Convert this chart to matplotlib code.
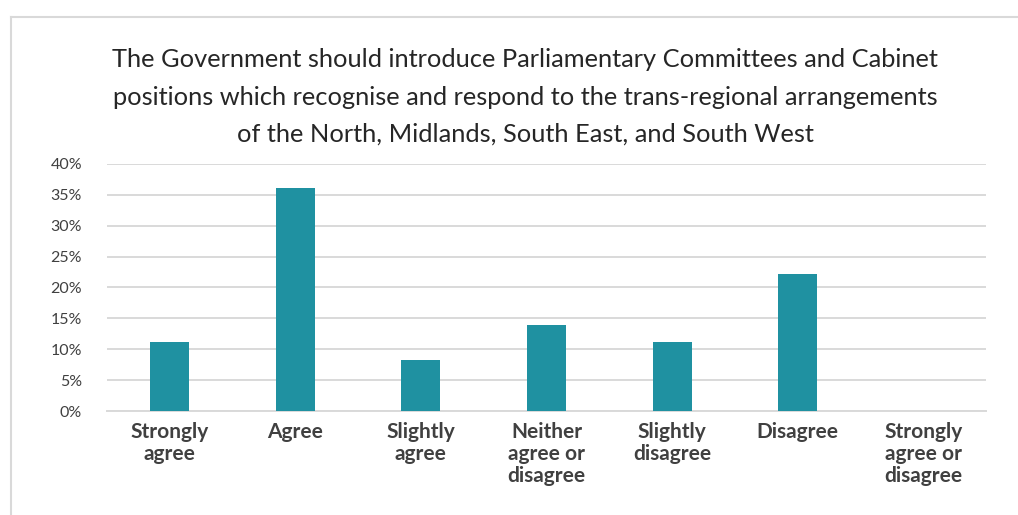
import matplotlib.pyplot as plt
from matplotlib.lines import Line2D
from matplotlib.ticker import FuncFormatter, MultipleLocator

plt.rcParams['font.family'] = ['Lato', 'DejaVu Sans']

categories = ['Strongly\nagree', 'Agree', 'Slightly\nagree', 'Neither\nagree or\ndisagree',
              'Slightly\ndisagree', 'Disagree', 'Strongly\nagree or\ndisagree']
shares = [0.111, 0.361, 0.083, 0.139, 0.111, 0.222, 0.0]

title = ('The Government should introduce Parliamentary Committees and Cabinet\n'
         'positions which recognise and respond to the trans-regional arrangements\n'
         'of the North, Midlands, South East, and South West')

bar_color = '#1F91A1'
text_color = '#404040'
grid_color = '#D9D9D9'

fig = plt.figure(figsize=(10.18, 5.15), dpi=100)
ax = fig.add_axes([0.1051, 0.2019, 0.8635, 0.4797])

x = range(len(categories))
ax.bar(x, shares, width=0.31, color=bar_color, zorder=3)

ax.set_xlim(-0.5, len(categories) - 0.5)
ax.set_ylim(0, 0.40)
ax.yaxis.set_major_locator(MultipleLocator(0.05))
ax.yaxis.set_major_formatter(FuncFormatter(lambda v, _: f'{v * 100:.0f}%'))
ax.grid(axis='y', color=grid_color, linewidth=1.4, zorder=0)
ax.set_axisbelow(True)

for side in ['top', 'right', 'left']:
    ax.spines[side].set_visible(False)
ax.spines['bottom'].set_color(grid_color)
ax.spines['bottom'].set_linewidth(1.4)

ax.set_xticks(list(x))
ax.set_xticklabels(categories, fontsize=15, fontweight='bold', color=text_color,
                   linespacing=1.12)
ax.tick_params(axis='x', length=0, pad=8)
ax.tick_params(axis='y', length=0, pad=18, labelsize=11.5, labelcolor=text_color)

fig.text(0.516, 0.906, title, ha='center', va='top', fontsize=18.3, color='#262626',
         linespacing=1.75)

# light frame around the chart area
frame = '#D9D9D9'
fig.add_artist(Line2D([11 / 1018, 1.0], [1 - 17 / 515] * 2, color=frame, linewidth=1.5,
                      transform=fig.transFigure))
fig.add_artist(Line2D([11 / 1018] * 2, [0.0, 1 - 17 / 515], color=frame, linewidth=1.5,
                      transform=fig.transFigure))

fig.savefig('out.png', dpi=100)
